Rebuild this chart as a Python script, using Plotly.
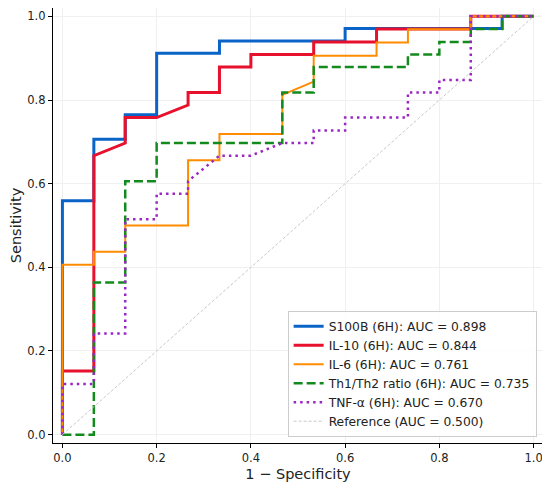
import plotly.graph_objects as go

# ---- data ----
s100b_fpr = [0, 0, 0.0667, 0.0667, 0.1333, 0.1333, 0.2, 0.2, 0.3333, 0.3333, 0.6, 0.6, 0.9333, 0.9333, 1]
s100b_tpr = [0, 0.559, 0.559, 0.706, 0.706, 0.765, 0.765, 0.912, 0.912, 0.941, 0.941, 0.971, 0.971, 1, 1]

il10_fpr = [0, 0, 0.0667, 0.0667, 0.1333, 0.1333, 0.2, 0.2667, 0.2667, 0.3333, 0.3333, 0.4, 0.4,
            0.5333, 0.5333, 0.6667, 0.6667, 0.8667, 0.8667, 1]
il10_tpr = [0, 0.152, 0.152, 0.667, 0.697, 0.758, 0.758, 0.788, 0.818, 0.818, 0.879, 0.879, 0.909,
            0.909, 0.939, 0.939, 0.970, 0.970, 1, 1]

il6_fpr = [0, 0, 0.0667, 0.0667, 0.1333, 0.1333, 0.2667, 0.2667, 0.3333, 0.3333, 0.4667, 0.4667,
           0.5333, 0.5333, 0.6667, 0.6667, 0.7333, 0.7333, 0.8667, 0.8667, 1]
il6_tpr = [0, 0.406, 0.406, 0.4375, 0.4375, 0.5, 0.5, 0.656, 0.656, 0.719, 0.719, 0.8125,
           0.844, 0.906, 0.906, 0.9375, 0.9375, 0.969, 0.969, 1, 1]

th_fpr = [0, 0.0667, 0.0667, 0.1333, 0.1333, 0.2, 0.2, 0.4667, 0.4667, 0.5333, 0.5333, 0.7333,
          0.7333, 0.8, 0.8, 0.8667, 0.8667, 0.9333, 0.9333, 1]
th_tpr = [0, 0, 0.364, 0.364, 0.606, 0.606, 0.697, 0.697, 0.818, 0.818, 0.879, 0.879,
          0.909, 0.909, 0.939, 0.939, 0.970, 0.970, 1, 1]

tnf_fpr = [0, 0, 0.0667, 0.0667, 0.1333, 0.1333, 0.2, 0.2, 0.2667, 0.2667, 0.3333, 0.4, 0.4667,
           0.5333, 0.5333, 0.6, 0.6, 0.7333, 0.7333, 0.8, 0.8, 0.8667, 0.8667, 1]
tnf_tpr = [0, 0.121, 0.121, 0.242, 0.242, 0.515, 0.515, 0.576, 0.576, 0.606, 0.667, 0.667, 0.697,
           0.697, 0.727, 0.727, 0.758, 0.758, 0.818, 0.818, 0.848, 0.848, 1, 1]

ref_fpr = [0, 1]
ref_tpr = [0, 1]

labels = [
    "S100B (6H): AUC = 0.898",
    "IL-10 (6H): AUC = 0.844",
    "IL-6 (6H): AUC = 0.761",
    "Th1/Th2 ratio (6H): AUC = 0.735",
    "TNF-α (6H): AUC = 0.670",
    "Reference (AUC = 0.500)",
]
tick_vals = [0.0, 0.2, 0.4, 0.6, 0.8, 1.0]
tick_text = ["0.0", "0.2", "0.4", "0.6", "0.8", "1.0"]

# ---- styles ----
styles = [
    dict(color="#0A64C8", width=3.0, dash="solid"),
    dict(color="#E8112D", width=3.0, dash="solid"),
    dict(color="#FF8C00", width=2.0, dash="solid"),
    dict(color="#138A1E", width=2.5, dash="9px,4px"),
    dict(color="#9B27C2", width=2.5, dash="2.5px,4px"),
    dict(color="#C8C8C8", width=1.0, dash="3px,2px"),
]
series = [
    (s100b_fpr, s100b_tpr),
    (il10_fpr, il10_tpr),
    (il6_fpr, il6_tpr),
    (th_fpr, th_tpr),
    (tnf_fpr, tnf_tpr),
    (ref_fpr, ref_tpr),
]

fig = go.Figure()
for (xs, ys), lab, st in zip(series, labels, styles):
    fig.add_trace(go.Scatter(x=xs, y=ys, mode="lines", name=lab, line=st))

axis_common = dict(
    range=[-0.02, 1.02],
    tickvals=tick_vals,
    ticktext=tick_text,
    showgrid=True,
    gridcolor="#F0F0F0",
    gridwidth=1,
    zeroline=False,
    showline=True,
    linecolor="black",
    linewidth=1.3,
    ticks="outside",
    ticklen=4,
    tickwidth=1,
    tickcolor="black",
    tickfont=dict(family="DejaVu Sans", size=11.5, color="#222"),
    mirror=False,
    automargin=False,
)

# page body has an 8px margin, so the figure is sized/offset to compensate
fig.update_layout(
    width=542,
    height=478,
    margin=dict(l=45, r=7, t=0, b=43),
    paper_bgcolor="white",
    plot_bgcolor="white",
    font=dict(family="DejaVu Sans", color="#222"),
    xaxis=dict(axis_common, title=dict(text="1 − Specificity", font=dict(size=14.5), standoff=4)),
    yaxis=dict(axis_common, title=dict(text="Sensitivity", font=dict(size=14.5), standoff=12)),
    legend=dict(
        x=0.987, y=0.0145, xanchor="right", yanchor="bottom",
        bgcolor="rgba(255,255,255,0.85)",
        bordercolor="#CCCCCC", borderwidth=1,
        font=dict(family="DejaVu Sans", size=12.3, color="#222"),
        tracegroupgap=0,
    ),
    showlegend=True,
)

fig.write_html("out.html")
